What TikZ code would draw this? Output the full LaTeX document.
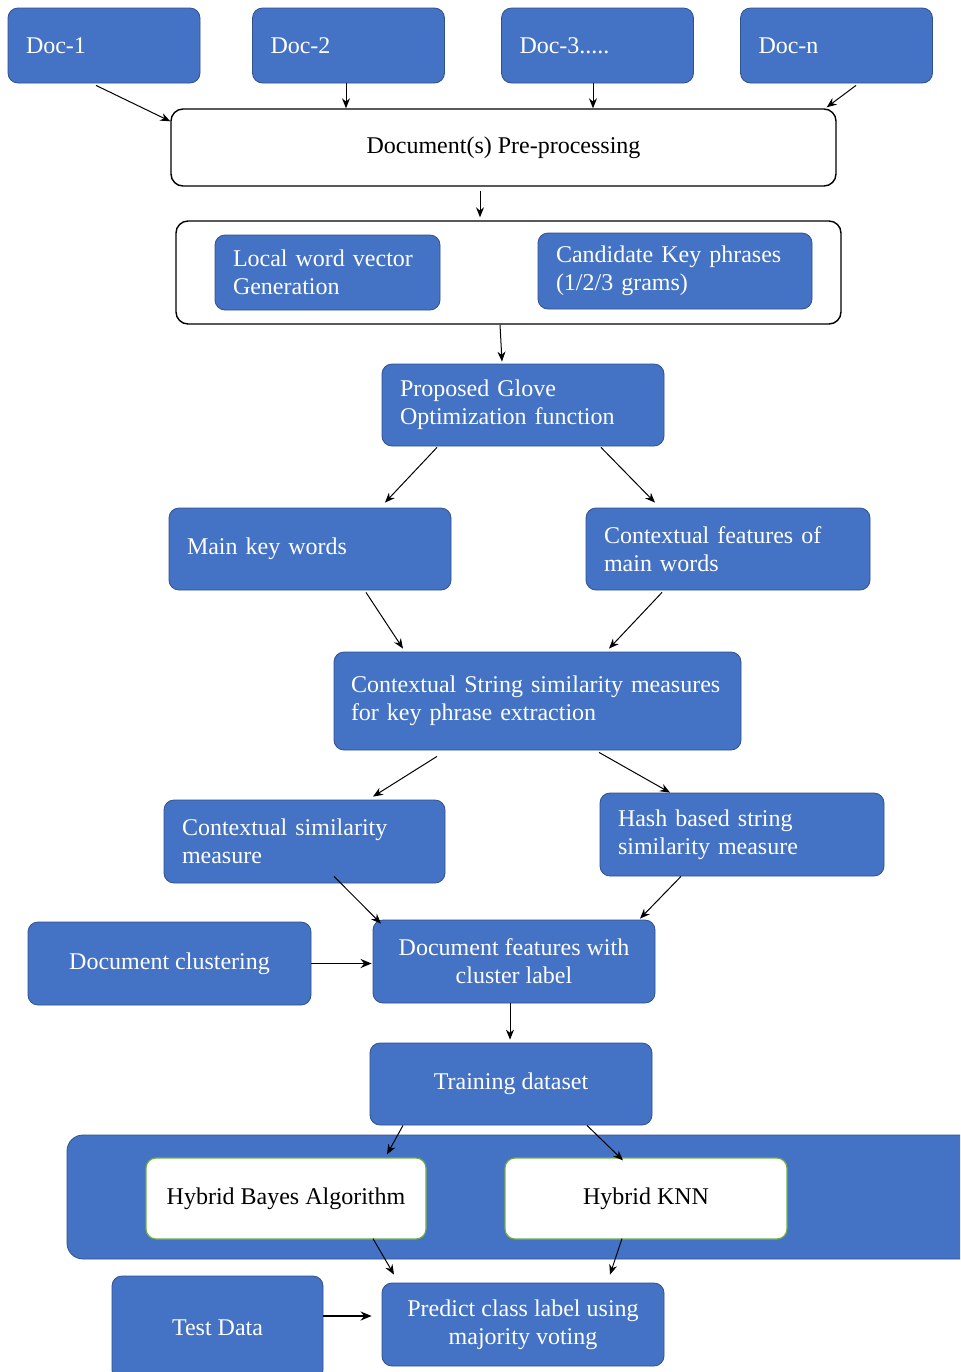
\documentclass[tikz,border=0pt]{standalone}
\usepackage{fontspec}
\setmainfont{Liberation Serif}
\usetikzlibrary{arrows.meta,calc}
\definecolor{ofblue}{HTML}{4472C4}
\definecolor{ofborder}{HTML}{2F528F}
\definecolor{ofgreen}{HTML}{70AD47}
\begin{document}
\begin{tikzpicture}[x=0.5pt,y=-0.5pt,
 font=\fontsize{12}{14}\selectfont,
 bbox/.style={rectangle, rounded corners=5pt, fill=ofblue, draw=ofborder, line width=0.4pt, text=white, inner sep=0pt},
 lbox/.style={bbox, align=left, inner xsep=9pt},
 cbox/.style={bbox, align=center},
 wbox/.style={rectangle, rounded corners=6pt, fill=white, draw=black, line width=0.7pt, inner sep=0pt, align=center},
 gbox/.style={rectangle, rounded corners=5pt, fill=white, draw=ofgreen, line width=0.6pt, align=center, inner sep=0pt},
 arr/.style={-{Stealth[length=5pt,width=4pt]}, line width=0.5pt},
 tarr/.style={-{Stealth[length=5.5pt,width=4.5pt]}, line width=0.9pt}]
\useasboundingbox (0,0) rectangle (960,1372);
\fill[white] (0,0) rectangle (960,1372);
\clip (0,0) rectangle (960,1372);

% documents
\node[lbox, text width=78pt, minimum height=37.5pt] (doc1) at (104,45.5) {Doc-1};
\node[lbox, text width=78pt, minimum height=37.5pt] (doc2) at (348.5,45.5) {Doc-2};
\node[lbox, text width=78pt, minimum height=37.5pt] (doc3) at (597.5,45.5) {Doc-3.....};
\node[lbox, text width=78pt, minimum height=37.5pt] (docn) at (836.5,45.5) {Doc-n};

\node[wbox, minimum width=332.5pt, minimum height=38.5pt] (pre) at (503.5,147.5) {Document(s) Pre-processing};

\node[wbox, minimum width=332.5pt, minimum height=51.5pt] (cont) at (508.5,272.5) {};
\node[lbox, text width=94.5pt, minimum height=37.5pt] (local) at (327.5,272.5) {Local word vector\\Generation};
\node[lbox, text width=119pt, minimum height=38pt] (cand) at (675,271) {Candidate Key phrases\\(1/2/3 grams)};

\node[lbox, text width=123pt, minimum height=41pt] (glove) at (523,405) {Proposed Glove\\Optimization function};

\node[lbox, text width=123pt, minimum height=41pt] (mainkw) at (310,549) {Main key words};
\node[lbox, text width=124pt, minimum height=41pt] (ctxfeat) at (728,549) {Contextual features of\\main words};

\node[lbox, inner xsep=8.5pt, text width=186.5pt, minimum height=49pt] (cstr) at (537.5,701) {Contextual String similarity measures\\for key phrase extraction};

\node[lbox, text width=122.5pt, minimum height=41.5pt] (csim) at (304.5,841.5) {Contextual similarity\\measure};
\node[lbox, text width=124pt, minimum height=41.5pt] (hash) at (742,834.5) {Hash based string\\similarity measure};

\node[cbox, minimum width=141.5pt, minimum height=41.5pt] (clust) at (169.5,963.5) {Document clustering};
\node[cbox, minimum width=141pt, minimum height=41.5pt] (feat) at (514,961.5) {Document features with\\cluster label};

\node[cbox, minimum width=141pt, minimum height=41pt] (train) at (511,1084) {Training dataset};

\node[bbox, rounded corners=8pt, minimum width=461.5pt, minimum height=62pt] (band) at (528.5,1197) {};
\node[gbox, minimum width=140pt, minimum height=40.5pt] (bayes) at (286,1198.5) {Hybrid Bayes Algorithm};
\node[gbox, minimum width=141pt, minimum height=40.5pt] (knn) at (646,1198.5) {Hybrid KNN};

\node[cbox, minimum width=105.5pt, minimum height=52pt] (test) at (217.5,1328) {Test Data};
\node[cbox, minimum width=141pt, minimum height=41.5pt] (pred) at (523,1324.5) {Predict class label using\\majority voting};

% connectors
\draw[arr] ($(doc1.south)+(-8,2)$) -- ($(pre.north west)+(0,13)$);
\draw[arr] ($(doc2.south)+(-2.5,0)$) -- ($(pre.north)+(-157.5,0)$);
\draw[arr] ($(doc3.south)+(-4.5,0)$) -- ($(pre.north)+(89.5,0)$);
\draw[arr] ($(docn.south)+(19.5,2)$) -- ($(pre.north east)+(-10,-1)$);
\draw[arr] ($(pre.south)+(-23.5,4)$) -- ($(cont.north)+(-28.5,-3)$);
\draw[arr] ($(cont.south)+(-8.5,0)$) -- ($(glove.north)+(-21,-2)$);
\draw[arr] ($(glove.south)+(-86,1)$) -- ($(mainkw.north)+(75,-5)$);
\draw[arr] ($(glove.south)+(78,1)$) -- ($(ctxfeat.north)+(-73,-5)$);
\draw[arr] ($(mainkw.south)+(56,2)$) -- ($(cstr.north)+(-134.5,-3)$);
\draw[arr] ($(ctxfeat.south)+(-66,2)$) -- ($(cstr.north)+(71.5,-3)$);
\draw[arr] ($(cstr.south)+(-100.5,6)$) -- ($(csim.north)+(68.5,-3)$);
\draw[arr] ($(cstr.south)+(61.5,2)$) -- ($(hash.north)+(-72,0)$);
\draw[arr] ($(csim.south)+(29.5,-7)$) -- ($(feat.north)+(-133,4)$);
\draw[arr] ($(hash.south)+(-61,0)$) -- ($(feat.north)+(126,-1)$);
\draw[tarr] (clust.east) -- ($(feat.west)+(-1,2)$);
\draw[arr] ($(feat.south)+(-4,0)$) -- ($(train.north)+(-1,-3)$);
\draw[arr] ($(train.south)+(-108,0)$) -- ($(bayes.north)+(101,-3)$);
\draw[arr] ($(train.south)+(76,0)$) -- ($(knn.north)+(-23,3)$);
\draw[arr] ($(bayes.south)+(87,-1)$) -- ($(pred.north)+(-129,-8)$);
\draw[arr] ($(knn.south)+(-24,-1)$) -- ($(pred.north)+(87,-8)$);
\draw[tarr] ($(test.east)+(0,-12)$) -- ($(pred.west)+(-10,-8.5)$);
\end{tikzpicture}
\end{document}
